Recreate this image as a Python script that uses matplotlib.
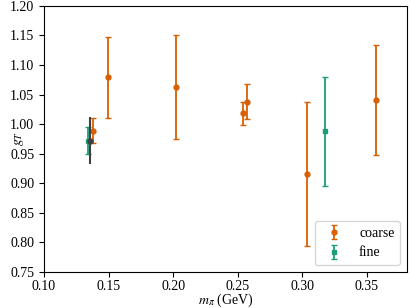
import numpy as np
import matplotlib
matplotlib.use("Agg")
import matplotlib.pyplot as plt

plt.rcParams['font.family'] = 'serif'
plt.rcParams['font.serif'] = ['Liberation Serif', 'DejaVu Serif']
plt.rcParams['mathtext.fontset'] = 'stix'
plt.rcParams['font.size'] = 10

# coarse ensembles
coarse_mpi = [0.1377, 0.1498, 0.2022, 0.254, 0.2571, 0.3036, 0.357]
coarse_gT = [0.989, 1.079, 1.062, 1.018, 1.038, 0.916, 1.040]
coarse_err = [0.021, 0.069, 0.088, 0.020, 0.030, 0.122, 0.093]

# fine ensembles
fine_mpi = [0.1338, 0.3175]
fine_gT = [0.972, 0.988]
fine_err = [0.023, 0.092]

# extrapolated physical point
phys_mpi = [0.1358]
phys_gT = [0.972]
phys_err = [0.040]

fig = plt.figure(figsize=(4.11, 3.08), dpi=100)
ax = fig.add_axes([0.107, 0.117, 0.883, 0.864])

ax.errorbar(phys_mpi, phys_gT, yerr=phys_err, fmt='o', color='0.25',
            ms=3.5, capsize=0, elinewidth=1.5, zorder=3)
ax.errorbar(coarse_mpi, coarse_gT, yerr=coarse_err, fmt='o', color='#d95f02',
            ms=3.5, capsize=2, elinewidth=1.3, label='coarse')
ax.errorbar(fine_mpi, fine_gT, yerr=fine_err, fmt='s', color='#1b9e77',
            ms=3.5, capsize=2, elinewidth=1.3, label='fine')

ax.set_xlim(0.10, 0.381)
ax.set_ylim(0.75, 1.20)
ax.set_xticks(np.arange(0.10, 0.36, 0.05))
ax.set_yticks(np.arange(0.75, 1.201, 0.05))
ax.xaxis.set_major_formatter(matplotlib.ticker.FormatStrFormatter('%.2f'))
ax.yaxis.set_major_formatter(matplotlib.ticker.FormatStrFormatter('%.2f'))
ax.tick_params(axis='x', pad=2)
ax.set_xlabel(r'$m_\pi$ (GeV)')
ax.set_ylabel(r'$g_T$')
ax.xaxis.set_label_coords(0.5, -0.075)
ax.yaxis.set_label_coords(-0.05, 0.5)
ax.legend(loc='lower right')

fig.savefig('out.png', dpi=100)
